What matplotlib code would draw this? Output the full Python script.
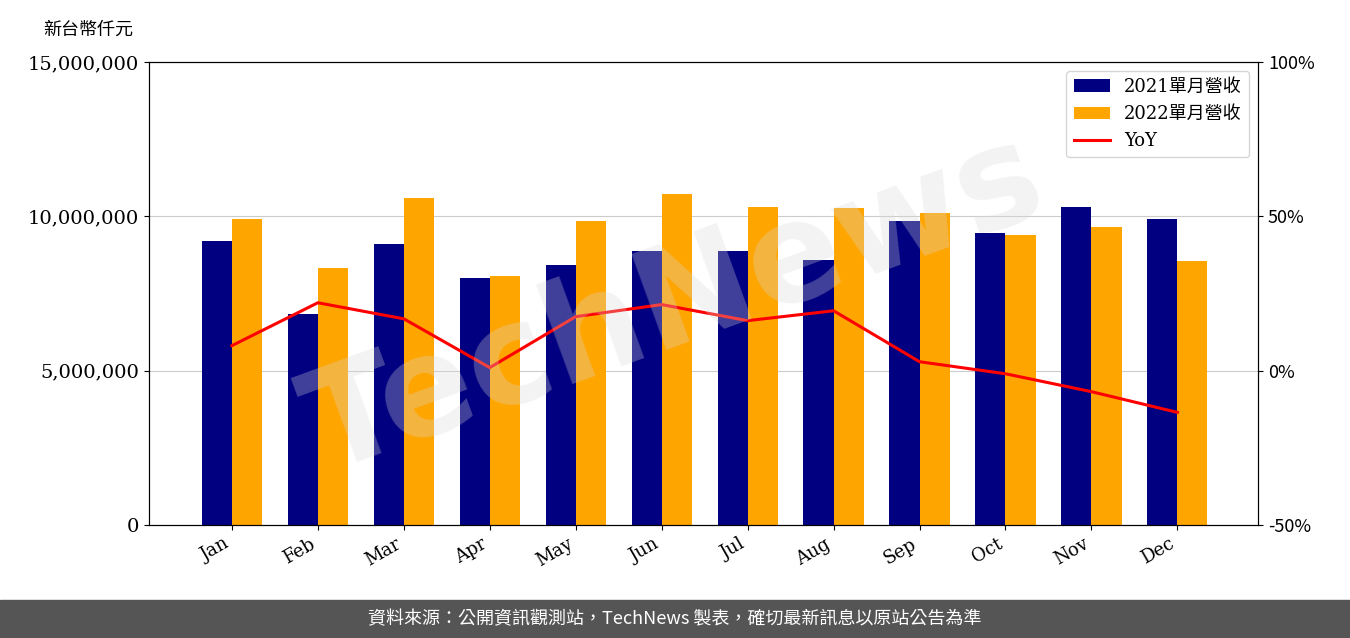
import numpy as np
import matplotlib.pyplot as plt

plt.rcParams['font.family'] = ['DejaVu Serif', 'Noto Sans CJK TC']

months = ['Jan', 'Feb', 'Mar', 'Apr', 'May', 'Jun', 'Jul', 'Aug', 'Sep', 'Oct', 'Nov', 'Dec']
rev_2021 = [9200000, 6830000, 9100000, 8000000, 8420000, 8880000, 8880000, 8580000, 9850000, 9460000, 10300000, 9910000]
rev_2022 = [9910000, 8330000, 10590000, 8070000, 9850000, 10720000, 10300000, 10270000, 10100000, 9390000, 9650000, 8550000]
yoy = [8.1, 22.0, 16.8, 1.0, 17.5, 21.4, 16.2, 19.4, 2.9, -1.0, -6.8, -13.5]

fig = plt.figure(figsize=(13.5, 6.38), dpi=100)
ax = fig.add_axes([0.11, 0.177, 0.822, 0.726])
x = np.arange(len(months))
w = 0.35
b1 = ax.bar(x - w/2, rev_2021, w, color='#000080', label='2021單月營收', zorder=2)
b2 = ax.bar(x + w/2, rev_2022, w, color='#FFA500', label='2022單月營收', zorder=2)
ax.set_ylim(0, 15000000)
ax.set_yticks([0, 5000000, 10000000, 15000000])
ax.set_yticklabels(['0', '5,000,000', '10,000,000', '15,000,000'], fontsize=14)
ax.yaxis.grid(True, color='#cccccc', zorder=0)
ax.set_xlim(-0.97, 11.94)
ax.set_xticks(x)
ax.set_xticklabels(months, rotation=30, ha='right', fontsize=13)

ax2 = ax.twinx()
l, = ax2.plot(x, yoy, color='red', lw=2.2, label='YoY')
ax2.set_ylim(-50, 100)
ax2.set_yticks([-50, 0, 50, 100])
ax2.set_yticklabels(['-50%', '0%', '50%', '100%'], fontsize=13, family=['Noto Sans CJK TC'])

ax.legend([b1, b2, l], ['2021單月營收', '2022單月營收', 'YoY'], loc='upper right', fontsize=13)

fig.text(0.032, 0.945, '新台幣仟元', fontsize=13, family=['Noto Sans CJK TC'])
fig.text(0.5, 0.52, 'TechNews', fontsize=100, color='#d8d8d8', alpha=0.3,
         rotation=20, ha='center', va='center', fontweight='bold', family=['DejaVu Sans'])

fig.patches.append(plt.Rectangle((0, 0), 1, 0.06, transform=fig.transFigure, color='#555555', zorder=0))
fig.text(0.5, 0.03, '資料來源：公開資訊觀測站，TechNews 製表，確切最新訊息以原站公告為準',
         color='white', fontsize=13, ha='center', va='center', family=['Noto Sans CJK TC'])

fig.savefig('out.png')
